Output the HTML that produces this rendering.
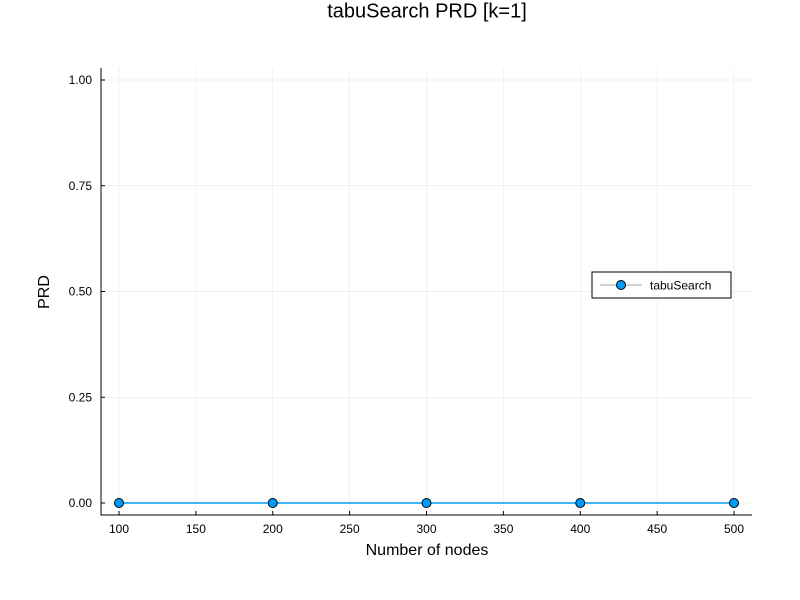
<!DOCTYPE html>
<html><head><meta charset="utf-8"><style>
html,body{margin:0;padding:0;background:#fff;}
svg{display:block;font-family:"Liberation Sans",sans-serif;}
</style></head><body>
<svg id="chart" width="800" height="600" xmlns="http://www.w3.org/2000/svg">
<rect width="800" height="600" fill="#fff"/>
<text x="427" y="12" text-anchor="middle" font-size="20" dominant-baseline="middle">tabuSearch PRD [k=1]</text>
<g id="grid"></g>
<g id="axes"></g>
<g id="series"></g>
<text x="427" y="555" text-anchor="middle" font-size="16">Number of nodes</text>
<text transform="translate(49,292) rotate(-90)" text-anchor="middle" font-size="16">PRD</text>
<g>
<rect x="592" y="272" width="139" height="26" fill="#fff" stroke="#000" stroke-width="1"/>
<line x1="600" y1="285" x2="642" y2="285" stroke="#888" stroke-width="0.8"/>
<circle cx="621" cy="285" r="4.5" fill="#009af9" stroke="#000" stroke-width="1"/>
<text x="650" y="289.5" font-size="12">tabuSearch</text>
</g>
</svg>
<script>
const xValues=[100,200,300,400,500];
const yValues=[0,0,0,0,0];
const xTicks=[100,150,200,250,300,350,400,450,500];
const yTicks=[0,0.25,0.5,0.75,1.0];
const yTickLabels=["0.00","0.25","0.50","0.75","1.00"];

const NS="http://www.w3.org/2000/svg";
const L=101,R=752,T=68,B=515;
function xs(v){return 119+(v-100)*(734-119)/400;}
function ys(v){return 503-v*(503-80);}
function mk(tag,attrs,parent,text){const e=document.createElementNS(NS,tag);for(const k in attrs)e.setAttribute(k,attrs[k]);if(text!==undefined)e.textContent=text;parent.appendChild(e);return e;}
const grid=document.getElementById('grid'),axes=document.getElementById('axes'),series=document.getElementById('series');
xTicks.forEach(t=>{
 const g=mk('line',{x1:xs(t),x2:xs(t),y1:T,y2:B,stroke:'#000','stroke-opacity':0.1,'stroke-width':0.5},grid);
 
 
 const tk=mk('line',{x1:xs(t),x2:xs(t),y1:B,y2:B-4,stroke:'#000','stroke-width':1},axes);
 
 
 const lb=mk('text',{x:xs(t),y:B+18,'text-anchor':'middle','font-size':12},axes,String(t));
 
 
});
yTicks.forEach((t,i)=>{
 const g=mk('line',{x1:L,x2:R,y1:ys(t),y2:ys(t),stroke:'#000','stroke-opacity':0.1,'stroke-width':0.5},grid);
 
 
 const tk=mk('line',{x1:L,x2:L+4,y1:ys(t),y2:ys(t),stroke:'#000','stroke-width':1},axes);
 
 
 const lb=mk('text',{x:L-9,y:ys(t)+4,'text-anchor':'end','font-size':12},axes,yTickLabels[i]);
 
 
});
const ax=mk('path',{d:`M${L},${T}V${B}H${R}`,fill:'none',stroke:'#000','stroke-width':1},axes);


const line=mk('polyline',{points:xValues.map((x,i)=>xs(x)+','+ys(yValues[i])).join(' '),fill:'none',stroke:'#009af9','stroke-width':1.5},series);


xValues.forEach((x,i)=>{
 const c=mk('circle',{cx:xs(x),cy:ys(yValues[i]),r:4.5,fill:'#009af9',stroke:'#000','stroke-width':1},series);
 
 
});
</script>
</body></html>
